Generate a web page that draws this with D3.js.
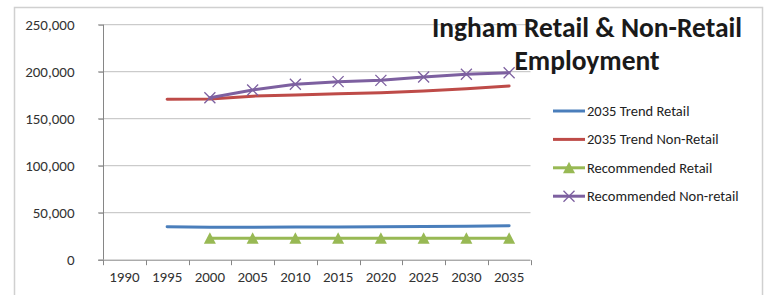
<!DOCTYPE html>
<html>
<head>
<script src="https://d3js.org/d3.v7.min.js"></script>
<style>
  body { margin: 0; background: #fff; }
  text { font-family: Calibri, Carlito, "Open Sans", "Liberation Sans", sans-serif; }
</style>
</head>
<body>
<script>
var years = ['1990','1995','2000','2005','2010','2015','2020','2025','2030','2035']
var yTicks = [0, 50000, 100000, 150000, 200000, 250000]

var trendRetail    = [null, 35000, 34500, 34600, 34800, 34900, 35000, 35200, 35600, 36000]
var trendNonRetail = [null, 170600, 171000, 174000, 175200, 176600, 177700, 179500, 181900, 184800]
var recRetail      = [null, null, 22800, 22900, 22900, 22800, 22700, 22700, 22800, 22800]
var recNonRetail   = [null, null, 172300, 180500, 186600, 189400, 190800, 194400, 197200, 198900]

var seriesNames  = ['2035 Trend Retail', '2035 Trend Non-Retail', 'Recommended Retail', 'Recommended Non-retail']
var seriesColors = ['#4a7ebb', '#be4b48', '#98b954', '#7d60a0']
var seriesMarkers = ['none', 'none', 'triangle', 'cross']
var seriesData = [trendRetail, trendNonRetail, recRetail, recNonRetail]

var w = 767, h = 295
var svg = d3.select('body').append('svg').attr('width', w).attr('height', h)

// outer chart border
svg.append('rect')
  .attr('x', 14.5).attr('y', 7.5).attr('width', 748).attr('height', 300)
  .attr('fill', 'none').attr('stroke', '#d0d0d0').attr('stroke-width', 1.5)

var x = d3.scaleBand().domain(years).range([103, 530.5])
var y = d3.scaleLinear().domain([0, 250000]).range([259.7, 24.7])

// gridlines
svg.selectAll('.grid').data(yTicks.slice(1)).enter().append('line')
  .attr('x1', 98).attr('x2', 530.5)
  .attr('y1', function(d){ return y(d) }).attr('y2', function(d){ return y(d) })
  .attr('stroke', '#bfbfbf').attr('stroke-width', 1)

// y axis
var yAxis = svg.append('g').attr('transform', 'translate(103.5,0)')
  .call(d3.axisLeft(y).tickValues(yTicks).tickSize(5).tickPadding(24).tickFormat(d3.format(',')))
yAxis.select('.domain').attr('stroke', '#868686').attr('d', 'M0,' + y(250000) + 'V' + y(0))
yAxis.selectAll('.tick line').attr('stroke', '#868686')
yAxis.selectAll('text').attr('font-size', 15).attr('fill', '#333')

// x axis with ticks between categories
var xAxisG = svg.append('g').attr('transform', 'translate(0,' + (y(0) + 0.5) + ')')
xAxisG.append('line').attr('x1', 98).attr('x2', 530.5).attr('stroke', '#868686')
var bounds = years.map(function(d){ return x(d) }).concat([x.range()[1]])
xAxisG.selectAll('.xt').data(bounds).enter().append('line')
  .attr('x1', function(d){ return Math.round(d) + 0.5 }).attr('x2', function(d){ return Math.round(d) + 0.5 })
  .attr('y1', 0).attr('y2', 5).attr('stroke', '#868686')
xAxisG.selectAll('.xl').data(years).enter().append('text')
  .attr('x', function(d){ return x(d) + x.bandwidth() / 2 })
  .attr('y', 21.5).attr('text-anchor', 'middle')
  .attr('font-size', 15).attr('fill', '#333')
  .text(function(d){ return d })

var line = d3.line()
  .defined(function(d){ return d != null })
  .x(function(d, i){ return x(years[i]) + x.bandwidth() / 2 })
  .y(function(d){ return y(d) })

function drawMarker(g, kind, cx, cy, color) {
  if (kind === 'triangle') {
    g.append('path').attr('d', 'M0,-6L6,5.5L-6,5.5Z')
      .attr('transform', 'translate(' + cx + ',' + cy + ')')
      .attr('fill', color)
  } else if (kind === 'cross') {
    g.append('path').attr('d', 'M-5.5,-5.5L5.5,5.5M-5.5,5.5L5.5,-5.5')
      .attr('transform', 'translate(' + cx + ',' + cy + ')')
      .attr('stroke', color).attr('stroke-width', 1.3).attr('fill', 'none')
  }
}

seriesData.forEach(function(data, s){
  var g = svg.append('g')
  g.append('path').attr('d', line(data))
    .attr('fill', 'none').attr('stroke', seriesColors[s]).attr('stroke-width', 3)
    .attr('stroke-linejoin', 'round').attr('stroke-linecap', 'round')
  data.forEach(function(d, i){
    if (d == null) return
    drawMarker(g, seriesMarkers[s], x(years[i]) + x.bandwidth() / 2, y(d), seriesColors[s])
  })
})

// title
var title = svg.append('text').attr('x', 587).attr('text-anchor', 'middle')
  .attr('font-size', 27.5).attr('font-weight', 'bold').attr('fill', '#1a1a1a')
title.append('tspan').attr('x', 587).attr('y', 37).text('Ingham Retail & Non-Retail')
title.append('tspan').attr('x', 587).attr('y', 70).text('Employment')

// legend
var legend = svg.append('g')
seriesNames.forEach(function(name, s){
  var ly = 111 + s * 28.4
  legend.append('line').attr('x1', 553).attr('x2', 585).attr('y1', ly).attr('y2', ly)
    .attr('stroke', seriesColors[s]).attr('stroke-width', 3)
  drawMarker(legend, seriesMarkers[s], 569, ly, seriesColors[s])
  legend.append('text').attr('x', 587).attr('y', ly + 5)
    .attr('font-size', 14.5).attr('fill', '#222').text(name)
})
</script>
</body>
</html>
